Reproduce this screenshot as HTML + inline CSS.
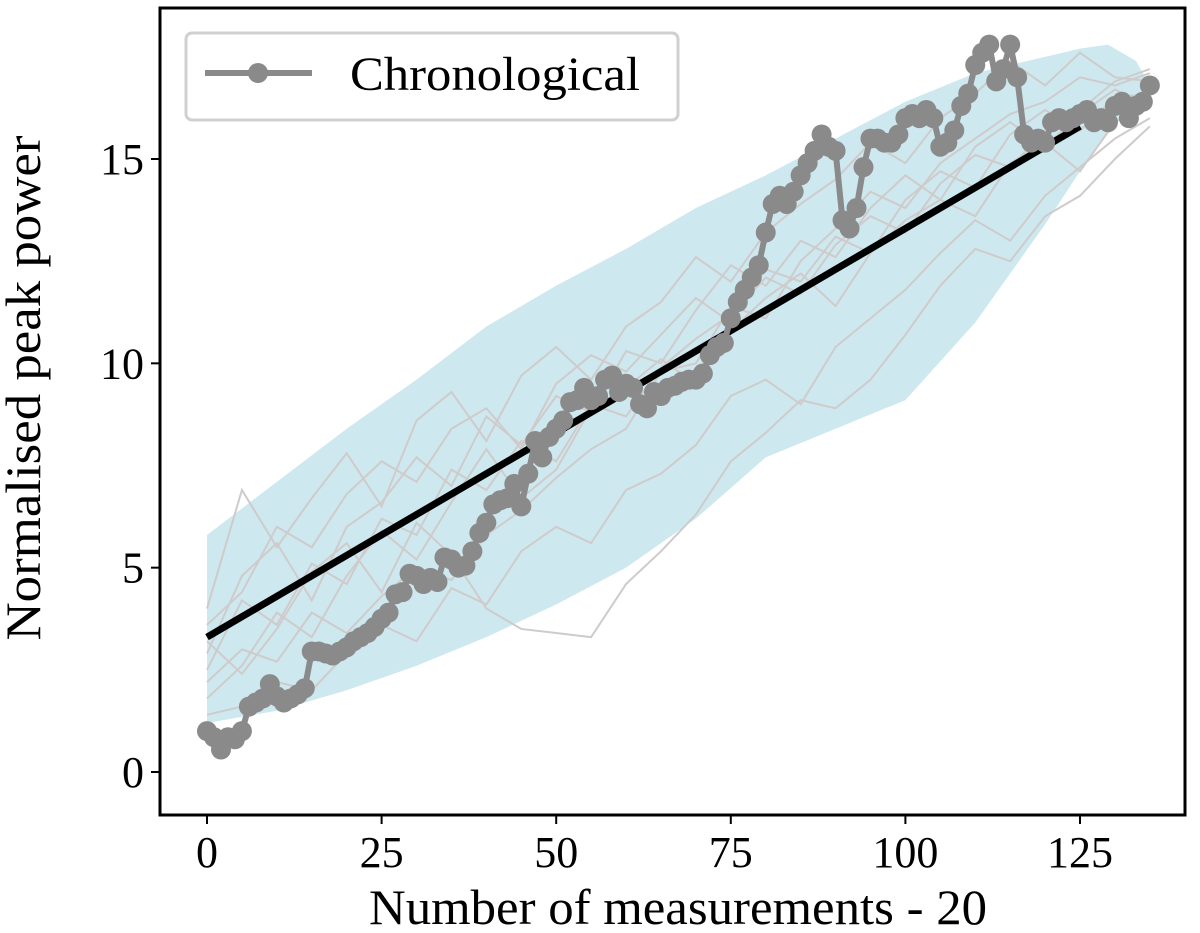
<!DOCTYPE html>
<html><head><meta charset="utf-8">
<style>
html,body{margin:0;padding:0;background:#fff;}
svg{display:block;font-family:"Liberation Serif",serif;}
</style></head>
<body>
<svg id="chart" width="1200" height="933" viewBox="0 0 1200 933" xmlns="http://www.w3.org/2000/svg">
<g id="plot"></g>
</svg>
<script>
const xTicks=[0,25,50,75,100,125];
const yTicks=[0,5,10,15];
const bandX=[0,10,20,30,40,50,60,70,80,90,100,110,120,125,129,133,135];
const bandUpper=[5.8,7.1,8.4,9.6,10.9,11.9,12.8,13.8,14.6,15.5,16.4,17.1,17.5,17.7,17.8,17.4,16.8];
const bandLower=[1.2,1.5,2.0,2.6,3.3,4.1,5.0,6.2,7.7,8.4,9.1,11.0,13.4,14.7,15.7,16.3,16.8];
const meanX=[0,125];
const meanY=[3.3,15.8];
const chrono=[1.0,0.85,0.55,0.85,0.8,1.0,1.6,1.7,1.8,2.15,1.85,1.7,1.8,1.9,2.05,2.95,2.95,2.9,2.85,2.95,3.05,3.2,3.3,3.4,3.55,3.75,3.9,4.35,4.4,4.85,4.8,4.6,4.75,4.65,5.25,5.2,5.0,5.05,5.4,5.85,6.1,6.55,6.65,6.7,7.05,6.5,7.3,8.1,7.7,8.2,8.4,8.6,9.05,9.1,9.4,9.1,9.2,9.6,9.7,9.3,9.5,9.4,9.0,8.9,9.3,9.2,9.4,9.45,9.55,9.6,9.6,9.75,10.2,10.4,10.5,11.1,11.5,11.8,12.1,12.4,13.2,13.9,14.1,13.9,14.2,14.6,14.9,15.2,15.6,15.3,15.2,13.5,13.3,13.8,14.8,15.5,15.5,15.4,15.4,15.6,16.0,16.1,16.0,16.2,16.0,15.3,15.4,15.7,16.3,16.6,17.3,17.6,17.8,16.9,17.2,17.8,17.0,15.6,15.4,15.5,15.4,15.9,16.0,15.9,16.0,16.1,16.2,15.9,16.0,15.9,16.3,16.4,16.0,16.3,16.4,16.8];
// gray realisations sampled every 5 measurements
const realStep=5;
const real1=[2.5,4.2,3.6,5.1,4.6,6.2,5.8,7.4,6.9,8.1,7.6,9.0,8.7,9.9,10.6,11.2,12.1,11.7,12.9,13.6,13.2,14.4,15.1,14.8,15.7,16.2,16.9,17.2];
const real2=[4.0,6.9,5.5,6.7,7.8,6.5,8.6,9.3,8.1,9.7,10.4,9.6,10.9,11.5,12.6,12.0,13.2,13.9,14.5,15.4,14.9,16.0,16.6,17.4,16.8,17.6,17.0,16.9];
const real3=[1.8,2.6,3.9,3.3,4.8,5.9,5.2,6.6,7.9,6.7,7.4,8.9,9.4,10.1,9.5,10.8,11.6,12.2,11.4,12.7,13.5,14.0,13.6,14.9,15.4,14.7,15.9,16.4];
const real4=[3.2,2.4,3.5,4.9,5.6,4.4,6.1,5.3,4.0,3.5,3.4,3.3,4.6,5.4,6.3,7.6,8.3,9.1,8.9,9.6,10.7,11.9,12.8,12.5,13.6,14.1,15.0,15.8];
const real5=[2.9,4.8,5.6,4.2,6.0,6.6,7.7,7.0,8.7,8.0,9.2,8.8,10.3,10.0,11.3,12.4,11.9,13.0,12.6,13.8,14.6,14.0,15.3,15.9,15.3,16.1,16.7,16.3];
const real6=[1.4,1.6,2.2,2.0,2.9,3.6,3.2,4.5,4.1,5.4,6.0,5.6,6.9,7.3,8.0,9.2,9.6,9.0,10.4,11.1,11.8,12.7,13.5,13.0,14.1,14.8,15.5,16.0];
const real7=[3.6,4.4,6.0,5.5,6.8,7.6,7.1,8.4,8.9,7.9,9.5,10.2,9.8,10.7,11.6,11.0,12.3,12.0,13.1,12.7,14.0,14.7,14.3,15.6,16.2,15.7,16.5,16.6];
const real8=[2.2,3.0,2.7,3.9,3.4,4.3,5.0,4.7,5.8,6.4,7.2,7.9,8.4,9.8,10.0,11.4,11.1,12.5,13.3,14.2,13.8,14.9,15.5,16.1,16.4,17.0,16.8,17.1];
const reals=[real1,real2,real3,real4,real5,real6,real7,real8];

const X0=160,X1=1185,Y0=8,Y1=815;
const xs=v=>207+v*(1080-207)/125;
const ys=v=>772-v*(772-159)/15;
const NS="http://www.w3.org/2000/svg";
const svg=document.getElementById('chart');
const plot=document.getElementById('plot');
function mk(t,a,p){const e=document.createElementNS(NS,t);for(const k in a)e.setAttribute(k,a[k]);(p||svg).appendChild(e);return e;}

// band
let d='M'+bandX.map((x,i)=>xs(x)+','+ys(bandUpper[i])).join(' L');
for(let i=bandX.length-1;i>=0;i--)d+=' L'+xs(bandX[i])+','+ys(bandLower[i]);
d+='Z';
const band=mk('path',{d:d,fill:'#add8e6','fill-opacity':0.6,'stroke-linejoin':'round'},plot);



// realisations
reals.forEach((r,k)=>{
  const pts=r.map((v,i)=>xs(Math.min(i*realStep,135))+','+ys(v)).join(' ');
  const pl=mk('polyline',{points:pts,fill:'none',stroke:'#cfcbcb','stroke-width':2},plot);
  
  
});

// mean
const ml=mk('line',{x1:xs(meanX[0]),y1:ys(meanY[0]),x2:xs(meanX[1]),y2:ys(meanY[1]),stroke:'#000','stroke-width':7},plot);



// chronological
const cp=chrono.map((v,i)=>xs(i)+','+ys(v)).join(' ');
const cl=mk('polyline',{points:cp,fill:'none',stroke:'#8a8a8a','stroke-width':6,'stroke-linejoin':'round'},plot);


chrono.forEach((v,i)=>{
  const c=mk('circle',{cx:xs(i),cy:ys(v),r:10,fill:'#8a8a8a'},plot);
  
  
});

// frame
const fr=mk('rect',{x:X0,y:Y0,width:X1-X0,height:Y1-Y0,fill:'none',stroke:'#000','stroke-width':3});



xTicks.forEach(t=>{
  const l=mk('line',{x1:xs(t),y1:Y1,x2:xs(t),y2:Y1+9,stroke:'#000','stroke-width':2});
  
  
  const tx=mk('text',{x:xs(t),y:Y1+52,'text-anchor':'middle','font-size':44});
  tx.textContent=t;
  
  
});
yTicks.forEach(t=>{
  const l=mk('line',{x1:X0-9,y1:ys(t),x2:X0,y2:ys(t),stroke:'#000','stroke-width':2});
  
  
  const tx=mk('text',{x:X0-16,y:ys(t)+15,'text-anchor':'end','font-size':44});
  tx.textContent=t;
  
  
});
const xt=mk('text',{x:678,y:924,'text-anchor':'middle','font-size':50,textLength:618,lengthAdjust:'spacingAndGlyphs'});
xt.textContent='Number of measurements - 20';


const yt=mk('text',{x:0,y:0,'text-anchor':'middle','font-size':50,textLength:505,lengthAdjust:'spacingAndGlyphs',transform:'translate(40,388) rotate(-90)'});
yt.textContent='Normalised peak power';



// legend
const lg=mk('g',{});


mk('rect',{x:186,y:33,width:492,height:87,rx:6,fill:'#fff','fill-opacity':0.85,stroke:'#d0d0d0','stroke-width':3},lg);
const le=mk('g',{},lg);


mk('line',{x1:205,y1:73,x2:312,y2:73,stroke:'#8a8a8a','stroke-width':6},le);
mk('circle',{cx:258,cy:73,r:10,fill:'#8a8a8a'},le);
const lt=mk('text',{x:350,y:90,'font-size':48,textLength:290,lengthAdjust:'spacingAndGlyphs'},le);
lt.textContent='Chronological';
</script>
</body></html>
